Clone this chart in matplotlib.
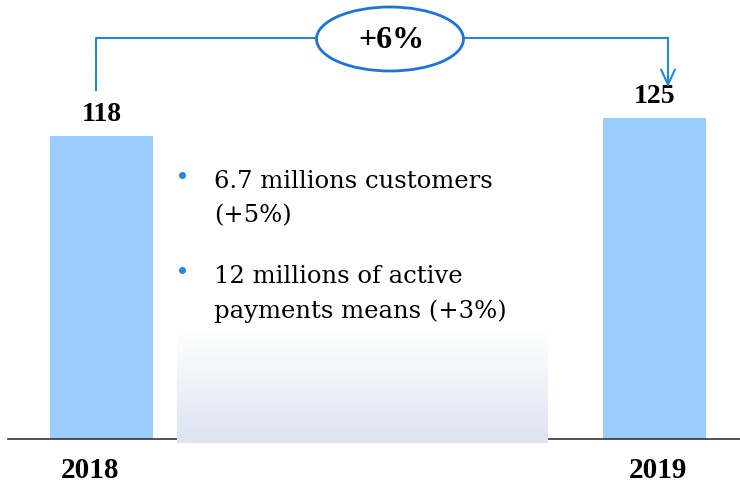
import matplotlib
matplotlib.use("Agg")
import matplotlib.pyplot as plt
import numpy as np
from matplotlib.patches import Ellipse
from matplotlib.colors import LinearSegmentedColormap

# ---------------------------------------------------------------------------
# Data
# ---------------------------------------------------------------------------
years = ["2018", "2019"]
values = [118, 125]
growth_label = "+6%"
bullets = [
    "6.7 millions customers\n(+5%)",
    "12 millions of active\npayments means (+3%)",
]

BAR_COLOR = "#99CCFF"
LINE_COLOR = "#1E88E5"
SERIF = ["Liberation Serif", "DejaVu Serif"]
TEXT_SERIF = ["DejaVu Serif"]

W, H = 740, 487

fig = plt.figure(figsize=(W / 100, H / 100), dpi=100, facecolor="white")

# main axes: baseline at pixel row 439, 2.57 px per unit
base_px = 439
px_per_unit = 2.57
x0_px, x1_px = 8, 740
c0_px, c1_px = 101.5, 654.5
unit_x = c1_px - c0_px
ax = fig.add_axes([x0_px / W, (H - base_px) / H, (x1_px - x0_px) / W, base_px / H])
ax.set_xlim(-(c0_px - x0_px) / unit_x, 1 + (x1_px - c1_px) / unit_x)
ax.set_ylim(0, base_px / px_per_unit)

xpos = np.arange(len(years))
ax.bar(xpos, values, width=103 / unit_x, color=BAR_COLOR, zorder=2)
for x, v in zip(xpos, values):
    ax.text(x, v + 3.5, str(v), ha="center", va="bottom", fontsize=20,
            fontweight="bold", family=SERIF, color="black")

for s in ("top", "left", "right"):
    ax.spines[s].set_visible(False)
ax.spines["bottom"].set_color("#333333")
ax.spines["bottom"].set_linewidth(1.2)
ax.set_yticks([])
ax.set_xticks([])
# year labels slightly off-centre as in the original slide
for x, yr, dx in zip(xpos, years, [-0.02, 0.007]):
    ax.text(x + dx, -31 / px_per_unit, yr, ha="center", va="center",
            fontsize=21, fontweight="bold", family=SERIF, clip_on=False)
ax.patch.set_alpha(0)

# overlay in pixel coordinates for the annotations
ov = fig.add_axes([0, 0, 1, 1])
ov.set_xlim(0, W)
ov.set_ylim(H, 0)
ov.axis("off")
ov.patch.set_alpha(0)

# gradient box
grad = np.linspace(0, 1, 100).reshape(-1, 1)
cmap = LinearSegmentedColormap.from_list("g", ["#FFFFFF", "#DCE4F2"])
ov.imshow(grad, cmap=cmap, extent=[177, 548, 443, 330], aspect="auto", zorder=1)

# bracket with ellipse
ov.plot([96, 96, 318], [90, 38, 38], color=LINE_COLOR, lw=1.5, zorder=3)
ov.plot([463, 668], [38, 38], color=LINE_COLOR, lw=1.5, zorder=3)
ov.annotate("", xy=(668, 90), xytext=(668, 37),
            arrowprops=dict(arrowstyle="->,head_length=1.1,head_width=0.5",
                            color=LINE_COLOR, lw=1.5), zorder=3)
ov.add_patch(Ellipse((390, 39), 147, 64, facecolor="white",
                     edgecolor="#1A73E0", lw=2, zorder=4))
ov.text(391, 41, growth_label, ha="center", va="center", fontsize=23,
        fontweight="bold", family=SERIF, zorder=5)

# bullet text
for yb, txt in zip([175, 270], bullets):
    ov.plot(182, yb, "o", color="#1E88E5", ms=4, zorder=5)
    ov.text(214, yb - 5, txt, ha="left", va="top", fontsize=17.5,
            family=TEXT_SERIF, linespacing=1.62, zorder=5)

fig.savefig("out.png", dpi=100, facecolor="white")
